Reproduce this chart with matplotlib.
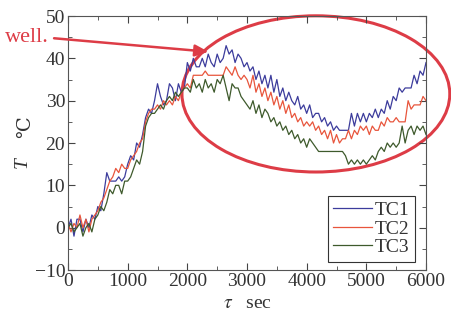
import numpy as np
import matplotlib
matplotlib.use("Agg")
from matplotlib import pyplot as plt
from matplotlib.patches import Ellipse

# time axis, one reading every 50 s
time_s = np.arange(0, 6001, 50)

tc1 = [0, 2, -2, 2, 2, -1, 2, 0, 3, 2,
       5, 4, 8, 13, 11, 11, 11, 12, 11, 12,
       15, 17, 16, 20, 19, 22, 26, 28, 27, 30,
       34, 31, 29, 30, 34, 33, 30, 34, 32, 33,
       39, 37, 40, 38, 38, 40, 38, 41, 39, 38,
       41, 39, 40, 43, 41, 42, 39, 41, 40, 38,
       39, 37, 38, 35, 37, 34, 36, 33, 36, 32,
       35, 31, 33, 30, 32, 30, 29, 31, 28, 29,
       27, 29, 26, 27, 27, 25, 26, 24, 25, 23,
       24, 23, 23, 23, 23, 27, 24, 27, 25, 27,
       25, 27, 26, 28, 26, 28, 27, 30, 28, 31,
       30, 33, 32, 33, 33, 33, 36, 34, 37, 36,
       39]
tc2 = [1, -1, 1, 0, 3, 0, 2, -1, 2, 3,
       4, 6, 7, 9, 11, 12, 14, 13, 15, 14,
       14, 16, 17, 18, 20, 21, 25, 27, 28, 28,
       29, 28, 30, 29, 30, 29, 31, 30, 32, 33,
       34, 33, 36, 36, 36, 36, 37, 36, 36, 36,
       36, 36, 36, 38, 37, 36, 38, 36, 35, 36,
       35, 33, 36, 32, 34, 31, 33, 30, 32, 29,
       31, 28, 30, 27, 29, 26, 27, 25, 26, 24,
       25, 24, 25, 23, 24, 22, 23, 21, 23, 20,
       22, 20, 21, 21, 23, 21, 23, 22, 24, 23,
       24, 22, 24, 23, 23, 25, 24, 26, 25, 25,
       26, 25, 25, 25, 30, 28, 29, 29, 29, 31,
       30]
tc3 = [0, 1, -1, 0, 1, -2, 0, 1, -1, 2,
       3, 5, 4, 6, 9, 8, 10, 10, 8, 11,
       11, 12, 14, 16, 15, 18, 24, 26, 27, 27,
       28, 29, 28, 30, 31, 30, 32, 31, 32, 33,
       33, 32, 35, 33, 34, 32, 35, 33, 34, 32,
       35, 34, 36, 33, 30, 34, 33, 33, 31, 30,
       29, 28, 30, 27, 29, 26, 28, 27, 25, 26,
       24, 25, 23, 24, 22, 23, 21, 22, 20, 21,
       19, 21, 20, 19, 18, 18, 18, 18, 18, 18,
       18, 18, 18, 17, 15, 16, 15, 16, 15, 16,
       15, 16, 17, 16, 18, 19, 18, 20, 19, 20,
       19, 20, 24, 20, 23, 24, 22, 24, 23, 24,
       22]

plt.rcParams["font.family"] = ["Liberation Serif", "DejaVu Serif"]
plt.rcParams["mathtext.fontset"] = "stix"

fig = plt.figure(figsize=(4.51, 3.30), dpi=100)
ax = fig.add_axes([0.1508, 0.1818, 0.7938, 0.7697])

ax.plot(time_s, tc1, color="#3c3c9c", lw=0.9, label="TC1")
ax.plot(time_s, tc2, color="#e8553c", lw=0.9, label="TC2")
ax.plot(time_s, tc3, color="#3e5a2c", lw=0.9, label="TC3")

ax.set_xlim(0, 6000)
ax.set_ylim(-10, 50)
ax.set_xticks(np.arange(0, 6001, 1000))
ax.set_xticks(np.arange(500, 6000, 1000), minor=True)
ax.set_yticks(np.arange(-10, 51, 10))
ax.set_yticks(np.arange(-5, 50, 10), minor=True)
ax.tick_params(which="both", direction="in", top=True, right=True,
               labelsize=14, colors="#444444", labelcolor="#333333", pad=2)
ax.tick_params(which="major", length=5)
ax.tick_params(which="minor", length=3)
for s in ax.spines.values():
    s.set_color("#555555")

ax.set_xlabel(r"$\tau$   sec", fontsize=14, color="#333333", labelpad=4)
# y label: italic T plus the degree-Celsius sign (not in Liberation Serif)
fig.text(0.05, 0.506, "T", fontsize=14, style="italic", color="#333333",
         rotation=90, ha="center", va="center", family="Liberation Serif")
fig.text(0.056, 0.615, "\u2103", fontsize=14, color="#333333",
         rotation=90, ha="center", va="center", family="DejaVu Serif")

leg = ax.legend(loc="lower right", bbox_to_anchor=(0.969, 0.031), borderaxespad=0,
                fontsize=14, handlelength=2.0, handletextpad=0.1, labelspacing=0.05,
                fancybox=False, framealpha=1, borderpad=0.3)
leg.get_frame().set_edgecolor("#333333")
leg.get_frame().set_linewidth(0.8)
for t in leg.get_texts():
    t.set_color("#333333")

red = "#dd3c46"
ax.add_patch(Ellipse((4154, 31.6), 4489, 36.9, fill=False, edgecolor=red,
                     lw=2.2, clip_on=False))
ax.annotate("", xy=(2400, 41.5), xycoords="data",
            xytext=(-280, 44.8), textcoords="data",
            arrowprops=dict(arrowstyle="-|>,head_length=0.8,head_width=0.35",
                            color=red, lw=1.8), annotation_clip=False)
fig.text(0.012, 0.885, "well.", fontsize=16, color=red, ha="left", va="center")

fig.savefig("out.png", dpi=100)
